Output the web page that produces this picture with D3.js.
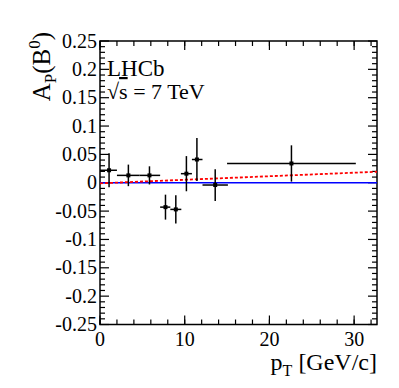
<!DOCTYPE html>
<html><head><meta charset="utf-8">
<script src="https://cdn.jsdelivr.net/npm/d3@7"></script>
<style>body{margin:0;background:#fff}svg{display:block}</style>
</head><body>
<svg id="c" width="399" height="388" font-family="'Liberation Serif', 'DejaVu Serif', serif"></svg>
<script>
const ptLow    = [0, 2, 4.65, 7.1, 8.3, 9.55, 10.85, 12.1, 15];
const ptHigh   = [2, 4.65, 7.1, 8.3, 9.6, 10.85, 12.1, 15.1, 30.2];
const ptCenter = [1.07, 3.35, 5.84, 7.73, 8.95, 10.2, 11.44, 13.6, 22.6];
const asym     = [0.022, 0.013, 0.013, -0.043, -0.047, 0.016, 0.041, -0.004, 0.034];
const asymErr  = [0.030, 0.019, 0.016, 0.022, 0.025, 0.031, 0.038, 0.028, 0.032];
const fitZero  = [[0, 0], [32.7, 0]];
const fitLin   = [[0, -0.001], [32.7, 0.0194]];
const yTicks   = [-0.25, -0.2, -0.15, -0.1, -0.05, 0, 0.05, 0.1, 0.15, 0.2, 0.25];
const yTickLabels = ["-0.25","-0.2","-0.15","-0.1","-0.05","0","0.05","0.1","0.15","0.2","0.25"];
const xTicks   = [0, 10, 20, 30];

const FONT = "Liberation Serif";
const svg = d3.select("#c");
const L = 100, R = 377, T = 41, B = 324.5;
const x = d3.scaleLinear().domain([0, 32.7]).range([L, R]);
const y = d3.scaleLinear().domain([-0.25, 0.25]).range([B, T]);

svg.append("rect").attr("x", L).attr("y", T).attr("width", R - L).attr("height", B - T)
  .attr("fill", "none").attr("stroke", "#000").attr("stroke-width", 1.5);

const g = svg.append("g").attr("stroke", "#000").attr("stroke-width", 1.2);
const yMinor = d3.range(-25, 26).map(d => d / 100);
yMinor.forEach(v => {
  const major = Math.abs(Math.round(v * 100) % 5) === 0;
  const len = major ? 9 : 5;
  g.append("line").attr("x1", L).attr("x2", L + len).attr("y1", y(v)).attr("y2", y(v));
  g.append("line").attr("x1", R).attr("x2", R - len).attr("y1", y(v)).attr("y2", y(v));
});
const xMinor = d3.range(0, 33, 2);
xMinor.forEach(v => {
  const len = 5;
  g.append("line").attr("x1", x(v)).attr("x2", x(v)).attr("y1", B).attr("y2", B - len);
  g.append("line").attr("x1", x(v)).attr("x2", x(v)).attr("y1", T).attr("y2", T + len);
});
xTicks.forEach(v => {
  const len = 9;
  g.append("line").attr("x1", x(v)).attr("x2", x(v)).attr("y1", B).attr("y2", B - len);
  g.append("line").attr("x1", x(v)).attr("x2", x(v)).attr("y1", T).attr("y2", T + len);
});

yTicks.forEach((v, i) => {
  svg.append("text").attr("font-family", FONT).attr("x", L - 3).attr("y", y(v)).attr("dy", "0.33em")
    .attr("text-anchor", "end").attr("font-size", 20).text(yTickLabels[i]);
});
xTicks.forEach(v => {
  svg.append("text").attr("font-family", FONT).attr("x", x(v)).attr("y", 346).attr("text-anchor", "middle")
    .attr("font-size", 20).text(v);
});

const line = d3.line().x(d => x(d[0])).y(d => y(d[1]));
svg.append("path").attr("d", line(fitZero)).attr("stroke", "#0000ff").attr("stroke-width", 1.5).attr("fill", "none");
svg.append("path").attr("d", line(fitLin)).attr("stroke", "#ff0000").attr("stroke-width", 1.8)
  .attr("stroke-dasharray", "3,2").attr("fill", "none");

const pts = svg.append("g").attr("stroke", "#000").attr("stroke-width", 1.5);
asym.forEach((v, i) => {
  pts.append("line").attr("x1", x(ptLow[i])).attr("x2", x(ptHigh[i])).attr("y1", y(v)).attr("y2", y(v));
  pts.append("line").attr("x1", x(ptCenter[i])).attr("x2", x(ptCenter[i]))
    .attr("y1", y(v - asymErr[i])).attr("y2", y(v + asymErr[i]));
  svg.append("rect").attr("x", x(ptCenter[i]) - 2).attr("y", y(v) - 2).attr("width", 4).attr("height", 4).attr("fill", "#000");
});

svg.append("text").attr("font-family", FONT).attr("x", 107).attr("y", 76).attr("font-size", 23).text("LHCb");
const s2 = svg.append("text").attr("font-family", FONT).attr("x", 107).attr("y", 99).attr("font-size", 22);
s2.append("tspan").text("\u221A");
s2.append("tspan").attr("text-decoration", "overline").text("s");
s2.append("tspan").text(" = 7 TeV");

const xl = svg.append("text").attr("font-family", FONT).attr("x", 377).attr("y", 370).attr("text-anchor", "end").attr("font-size", 24);
xl.append("tspan").text("p");
xl.append("tspan").attr("font-size", 16).attr("dy", 6).text("T");
xl.append("tspan").attr("dy", -6).text(" [GeV/c]");

const yl = svg.append("text").attr("font-family", FONT).attr("transform", "translate(50,32) rotate(-90)").attr("text-anchor", "end").attr("font-size", 25);
yl.append("tspan").text("A");
yl.append("tspan").attr("font-size", 17).attr("dy", 6).text("P");
yl.append("tspan").attr("dy", -6).text("(B");
yl.append("tspan").attr("font-size", 17).attr("dy", -10).text("0");
yl.append("tspan").attr("dy", 10).text(")");
</script>
</body></html>
